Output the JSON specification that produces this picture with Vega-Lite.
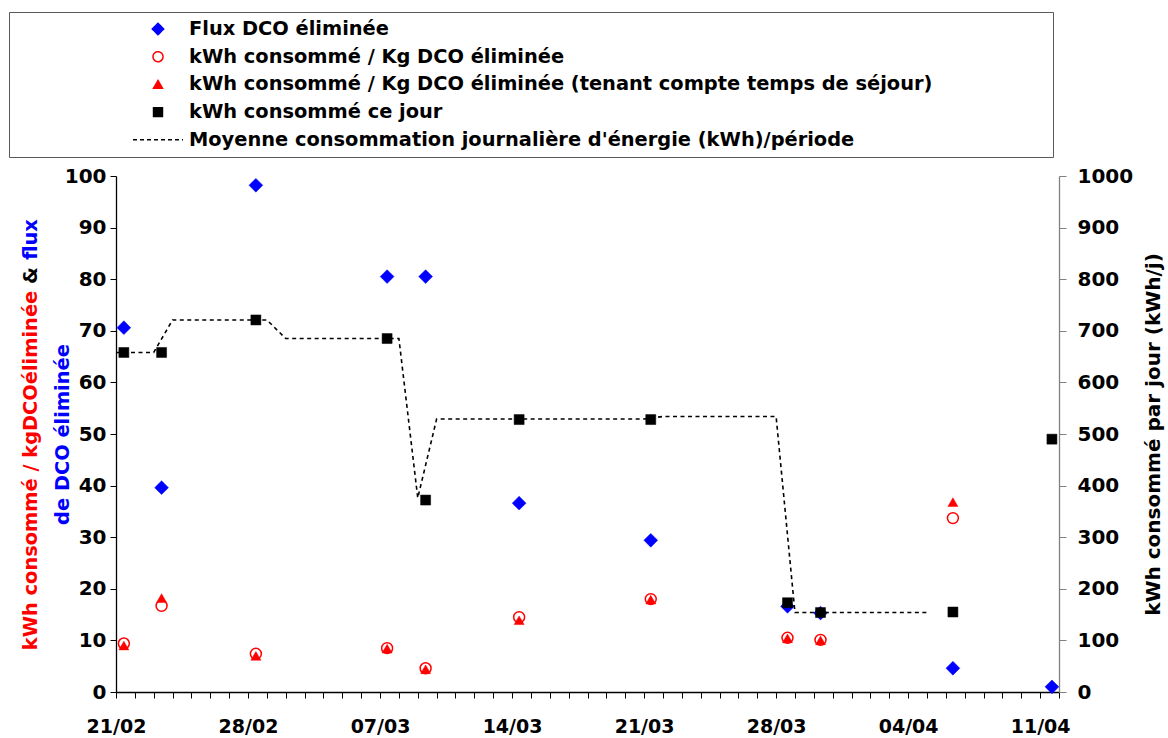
{
  "$schema": "https://vega.github.io/schema/vega-lite/v6.json",
  "width": 943,
  "height": 516,
  "autosize": {"type": "none"},
  "padding": {"left": 116, "top": 176, "right": 109, "bottom": 46},
  "background": "white",
  "config": {
    "view": {"stroke": null},
    "font": "DejaVu Sans",
    "axis": {"labelFont": "DejaVu Sans", "titleFont": "DejaVu Sans", "grid": false}
  },
  "datasets": {
    "points": [
      {"date": "2009-02-21T10:00", "flux": 70.6, "kwh_kg": 9.4, "kwh_kg_ts": 9.0, "kwh_jour": 658},
      {"date": "2009-02-23T10:00", "flux": 39.6, "kwh_kg": 16.7, "kwh_kg_ts": 18.2, "kwh_jour": 658},
      {"date": "2009-02-28T10:00", "flux": 98.2, "kwh_kg": 7.4, "kwh_kg_ts": 7.0, "kwh_jour": 721},
      {"date": "2009-03-07T09:00", "flux": 80.5, "kwh_kg": 8.5, "kwh_kg_ts": 8.4, "kwh_jour": 685},
      {"date": "2009-03-09T10:00", "flux": 80.5, "kwh_kg": 4.6, "kwh_kg_ts": 4.4, "kwh_jour": 372},
      {"date": "2009-03-14T09:00", "flux": 36.6, "kwh_kg": 14.5, "kwh_kg_ts": 13.9, "kwh_jour": 528},
      {"date": "2009-03-21T08:30", "flux": 29.4, "kwh_kg": 18.0, "kwh_kg_ts": 17.9, "kwh_jour": 528},
      {"date": "2009-03-28T14:30", "flux": 16.6, "kwh_kg": 10.5, "kwh_kg_ts": 10.4, "kwh_jour": 173},
      {"date": "2009-03-30T08:30", "flux": 15.3, "kwh_kg": 10.1, "kwh_kg_ts": 10.0, "kwh_jour": 154},
      {"date": "2009-04-06T09:00", "flux": 4.6, "kwh_kg": 33.7, "kwh_kg_ts": 36.8, "kwh_jour": 155},
      {"date": "2009-04-11T15:00", "flux": 1.0, "kwh_kg": null, "kwh_kg_ts": null, "kwh_jour": 490}
    ],
    "moyenne": [
      {"date": "2009-02-21T00:00", "moy": 658},
      {"date": "2009-02-23T00:00", "moy": 658},
      {"date": "2009-02-24T00:00", "moy": 721},
      {"date": "2009-03-01T00:00", "moy": 721},
      {"date": "2009-03-02T00:00", "moy": 685},
      {"date": "2009-03-08T00:00", "moy": 685},
      {"date": "2009-03-09T00:00", "moy": 376},
      {"date": "2009-03-10T00:00", "moy": 529},
      {"date": "2009-03-21T00:00", "moy": 529},
      {"date": "2009-03-22T00:00", "moy": 534},
      {"date": "2009-03-28T00:00", "moy": 534},
      {"date": "2009-03-29T00:00", "moy": 154},
      {"date": "2009-04-05T00:00", "moy": 154}
    ]
  },
  "encoding": {
    "x": {
      "field": "date",
      "type": "temporal",
      "scale": {"domain": [{"year": 2009, "month": 2, "date": 21}, {"year": 2009, "month": 4, "date": 12}]},
      "axis": {
        "title": null,
        "tickCount": {"interval": "day", "step": 1},
        "labelExpr": "(round((datum.value - datetime(2009,1,21)) / 86400000) % 7 == 0) ? timeFormat(datum.value, '%d/%m') : ''",
        "labelOverlap": false,
        "labelFlush": false,
        "labelFontSize": 19,
        "labelFontWeight": "bold",
        "labelColor": "black",
        "labelPadding": 19,
        "domainColor": "black",
        "domainWidth": 1.3,
        "tickColor": "black",
        "tickWidth": 1,
        "tickSize": 6
      }
    }
  },
  "layer": [
    {
      "data": {"name": "points"},
      "mark": {"type": "point", "shape": "diamond", "filled": true, "fill": "#0000ff", "stroke": "#0000ff", "size": 190, "strokeWidth": 0.5, "opacity": 1},
      "encoding": {
        "y": {
          "field": "flux", "type": "quantitative",
          "scale": {"domain": [0, 100], "nice": false},
          "axis": {
            "orient": "left",
            "values": [0, 10, 20, 30, 40, 50, 60, 70, 80, 90, 100],
            "domainColor": "black", "domainWidth": 1.3,
            "tickColor": "black", "tickSize": 6, "tickWidth": 1,
            "labelFontSize": 20, "labelFontWeight": "bold", "labelColor": "black", "labelPadding": 4,
            "title": "de DCO éliminée",
            "titleColor": "#0000ff", "titleFontSize": 19.4, "titleFontWeight": "bold",
            "titleAngle": 270, "titleAlign": "center", "titleBaseline": "middle",
            "titleX": -54, "titleY": 258
          }
        }
      }
    },
    {
      "data": {"name": "points"},
      "transform": [{"filter": "isValid(datum.kwh_kg_ts)"}],
      "mark": {"type": "point", "shape": "triangle-up", "filled": true, "fill": "#ff0000", "stroke": "#ff0000", "size": 100, "strokeWidth": 0.5, "opacity": 1},
      "encoding": {
        "y": {
          "field": "kwh_kg_ts", "type": "quantitative",
          "scale": {"domain": [0, 100], "nice": false},
          "axis": {
            "orient": "left", "domain": false, "ticks": false, "labels": false,
            "title": "flux",
            "titleColor": "#0000ff", "titleFontSize": 19.4, "titleFontWeight": "bold",
            "titleAngle": 270, "titleAlign": "center", "titleBaseline": "middle",
            "titleX": -86, "titleY": 63
          }
        }
      }
    },
    {
      "data": {"name": "points"},
      "transform": [{"filter": "isValid(datum.kwh_kg)"}],
      "mark": {"type": "point", "shape": "circle", "filled": false, "stroke": "#ff0000", "size": 120, "strokeWidth": 1.5, "opacity": 1},
      "encoding": {
        "y": {
          "field": "kwh_kg", "type": "quantitative",
          "scale": {"domain": [0, 100], "nice": false},
          "axis": {
            "orient": "left", "domain": false, "ticks": false, "labels": false,
            "title": "kWh consommé / kgDCOéliminée",
            "titleColor": "#ff0000", "titleFontSize": 19.4, "titleFontWeight": "bold",
            "titleAngle": 270, "titleAlign": "center", "titleBaseline": "middle",
            "titleX": -86, "titleY": 294
          }
        }
      }
    },
    {
      "data": {"name": "moyenne"},
      "mark": {"type": "line", "strokeWidth": 1.6, "opacity": 1},
      "encoding": {
        "y": {
          "field": "moy", "type": "quantitative",
          "scale": {"domain": [0, 1000], "nice": false},
          "axis": {
            "orient": "left", "domain": false, "ticks": false, "labels": false,
            "title": "&",
            "titleColor": "black", "titleFontSize": 19.4, "titleFontWeight": "bold",
            "titleAngle": 270, "titleAlign": "center", "titleBaseline": "middle",
            "titleX": -86, "titleY": 99
          }
        },
        "strokeDash": {
          "datum": "pointillé", "type": "nominal",
          "scale": {"domain": ["pointillé"], "range": [[4, 3.5]]},
          "legend": null
        },
        "stroke": {
          "datum": "Moyenne consommation journalière d'énergie (kWh)/période", "type": "nominal",
          "scale": {
            "domain": ["Flux DCO éliminée", "kWh consommé / Kg DCO éliminée", "kWh consommé / Kg DCO éliminée (tenant compte temps de séjour)", "kWh consommé ce jour", "Moyenne consommation journalière d'énergie (kWh)/période"],
            "range": ["#0000ff", "#ff0000", "#ff0000", "#000000", "#000000"]
          },
          "legend": {
            "orient": "none", "legendX": -107, "legendY": -164,
            "title": " ", "titleOrient": "right", "titlePadding": 114,
            "fillColor": "white", "strokeColor": "#595959", "padding": 7,
            "clipHeight": 20, "rowPadding": 7.7, "symbolOffset": 116, "labelOffset": 5,
            "labelFont": "DejaVu Sans", "labelFontSize": 19.4, "labelFontWeight": "bold", "labelColor": "black",
            "labelLimit": 2000, "symbolOpacity": 1,
            "symbolType": {"expr": "['diamond','circle','triangle-up','square','stroke'][indexof(domain('stroke'), isObject(datum) ? datum.value : datum)] || 'circle'"},
            "symbolSize": {"expr": "[130,100,80,80,2500][indexof(domain('stroke'), isObject(datum) ? datum.value : datum)] || 2500"},
            "symbolFillColor": {"expr": "['#0000ff','transparent','#ff0000','#000000','transparent'][indexof(domain('stroke'), isObject(datum) ? datum.value : datum)] || 'transparent'"},
            "symbolDash": {"expr": "indexof(domain('stroke'), isObject(datum) ? datum.value : datum) == 4 ? [4,3] : [1,0]"}
          }
        }
      }
    },
    {
      "data": {"name": "points"},
      "mark": {"type": "point", "shape": "square", "filled": true, "fill": "#000000", "stroke": "#000000", "size": 100, "strokeWidth": 0.5, "opacity": 1},
      "encoding": {
        "y": {
          "field": "kwh_jour", "type": "quantitative",
          "scale": {"domain": [0, 1000], "nice": false},
          "axis": {
            "orient": "right",
            "values": [0, 100, 200, 300, 400, 500, 600, 700, 800, 900, 1000],
            "format": "d",
            "domainColor": "#808080", "domainWidth": 1.3,
            "tickColor": "#808080", "tickSize": 7, "tickWidth": 1,
            "labelFontSize": 20, "labelFontWeight": "bold", "labelColor": "black", "labelPadding": 11,
            "title": "kWh consommé par jour (kWh/j)",
            "titleColor": "black", "titleFontSize": 20, "titleFontWeight": "bold",
            "titleAngle": 270, "titleAlign": "center", "titleBaseline": "middle",
            "titleX": 94, "titleY": 258
          }
        }
      }
    }
  ],
  "resolve": {"scale": {"y": "independent"}}
}
